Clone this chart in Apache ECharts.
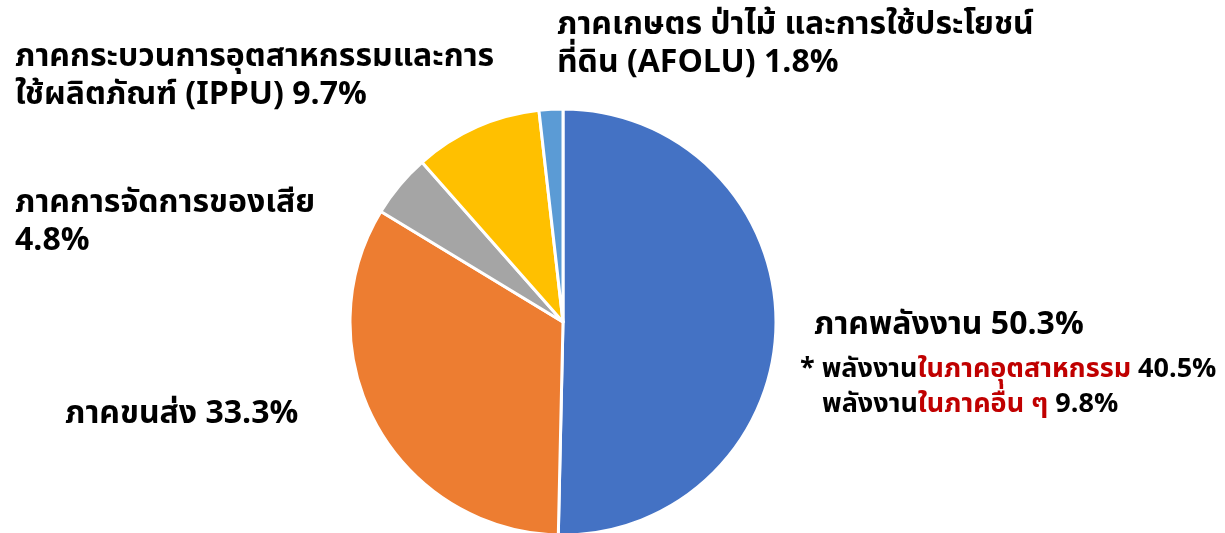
<!DOCTYPE html>
<html><head><meta charset="utf-8">
<script src="https://cdn.jsdelivr.net/npm/echarts@6/dist/echarts.min.js"></script>
<style>html,body{margin:0;padding:0;background:#fff}#c{width:1225px;height:533px}</style>
</head><body><div id="c"></div>
<script>
const sectors = ['ภาคพลังงาน', 'ภาคขนส่ง', 'ภาคการจัดการของเสีย', 'ภาคกระบวนการอุตสาหกรรมและการใช้ผลิตภัณฑ์ (IPPU)', 'ภาคเกษตร ป่าไม้ และการใช้ประโยชน์ที่ดิน (AFOLU)'];
const shares = [50.3, 33.3, 4.8, 9.7, 1.8];
const energyIndustry = 40.5;
const energyOther = 9.8;
const colors = ['#4472C4', '#ED7D31', '#A5A5A5', '#FFC000', '#5B9BD5'];

const F = '"Noto Sans Thai","Noto Sans","Noto Sans CJK SC",sans-serif';
const labelTexts = [
  '{i|}{a|ภาคพลังงาน ' + shares[0] + '%}\n{s|* พลังงาน}{r|ในภาคอุตสาหกรรม}{s| ' + energyIndustry + '%}\n{j|}{s|พลังงาน}{r|ในภาคอื่น ๆ}{s| ' + energyOther + '%}',
  '{a|ภาคขนส่ง ' + shares[1] + '%}',
  '{a|ภาคการจัดการของเสีย}\n{a|' + shares[2] + '%}',
  '{a|ภาคกระบวนการอุตสาหกรรมและการ}\n{a|ใช้ผลิตภัณฑ์ (IPPU) ' + shares[3] + '%}',
  '{a|ภาคเกษตร ป่าไม้ และการใช้ประโยชน์}\n{a|ที่ดิน (AFOLU) ' + shares[4] + '%}'
];
const labelPos = [[800, 302], [65, 398], [15, 187], [15, 41], [557, 9]];

const chart = echarts.init(document.getElementById('c'));
chart.setOption({
  animation: false,
  series: [{
    type: 'pie',
    center: [563, 322],
    radius: 213,
    startAngle: 90,
    clockwise: true,
    data: sectors.map((n, i) => ({name: n, value: shares[i], itemStyle: {color: colors[i]}})),
    itemStyle: {borderColor: '#fff', borderWidth: 3},
    label: {
      show: true,
      position: 'outside',
      overflow: 'none',
      width: 800,
      formatter: p => labelTexts[p.dataIndex],
      align: 'left',
      rich: {
        a: {fontSize: 32, fontWeight: 'bold', color: '#000', fontFamily: F, lineHeight: 38},
        s: {fontSize: 27, fontWeight: 'bold', color: '#000', fontFamily: F, lineHeight: 35},
        r: {fontSize: 27, fontWeight: 'bold', color: '#C00000', fontFamily: F, lineHeight: 35},
        i: {width: 14, fontSize: 32, lineHeight: 52},
        j: {width: 22, fontSize: 27, lineHeight: 35}
      }
    },
    labelLine: {show: false},
    labelLayout: p => ({x: labelPos[p.dataIndex][0], y: labelPos[p.dataIndex][1], align: 'left', verticalAlign: 'top'})
  }]
});
</script></body></html>
